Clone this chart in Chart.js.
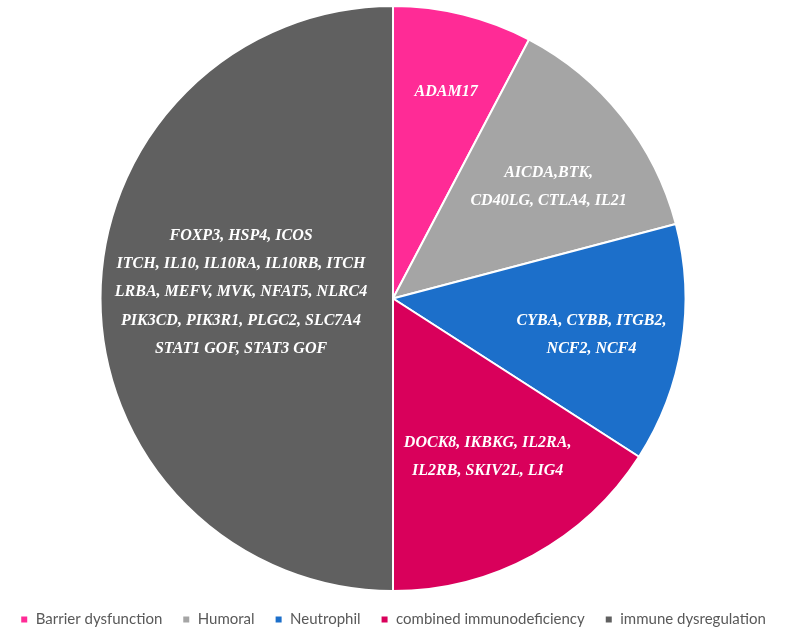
<!DOCTYPE html>
<html>
<head>
<meta charset="utf-8">
<script src="https://cdn.jsdelivr.net/npm/chart.js@4"></script>
<style>
  html, body { margin: 0; padding: 0; background: #fff; }
  #wrap { width: 792px; height: 637px; }
</style>
</head>
<body>
<div id="wrap"><canvas id="myChart" width="792" height="637"></canvas></div>
<script>
const categories = ["Barrier dysfunction", "Humoral", "Neutrophil", "combined immunodeficiency", "immune dysregulation"];
const shares = [7.7, 13.2, 13.2, 15.9, 50];
const geneLabels = [
    ["ADAM17"],
    ["AICDA,BTK,", "CD40LG, CTLA4, IL21"],
    ["CYBA, CYBB, ITGB2,", "NCF2, NCF4"],
    ["DOCK8, IKBKG, IL2RA,", "IL2RB, SKIV2L, LIG4"],
    ["FOXP3, HSP4, ICOS", "ITCH, IL10, IL10RA, IL10RB, ITCH", "LRBA, MEFV, MVK, NFAT5, NLRC4",
     "PIK3CD, PIK3R1, PLGC2, SLC7A4", "STAT1 GOF, STAT3 GOF"]
];
const colors = ["#FF2B96", "#A5A5A5", "#1C6FCA", "#D9005B", "#606060"];

// where each label sits: fraction along the slice angle, fraction of radius
const labelSpots = [[0.52, 0.73], [0.56, 0.655], [0.53, 0.69], [0.46, 0.63], [0.513, 0.52]];

const geneLabelPlugin = {
    id: "geneLabels",
    afterDatasetsDraw(chart) {
        const ctx = chart.ctx;
        const meta = chart.getDatasetMeta(0);
        ctx.save();
        ctx.font = "italic bold 16px 'Liberation Serif', 'Times New Roman', serif";
        ctx.fillStyle = "#ffffff";
        ctx.textAlign = "center";
        ctx.textBaseline = "middle";
        meta.data.forEach((arc, i) => {
            const p = arc.getProps(["x", "y", "startAngle", "endAngle", "outerRadius"], true);
            const [t, f] = labelSpots[i];
            const a = p.startAngle + (p.endAngle - p.startAngle) * t;
            const cx = p.x + Math.cos(a) * p.outerRadius * f;
            const cy = p.y + Math.sin(a) * p.outerRadius * f;
            const lines = geneLabels[i];
            const lh = 28.2;
            lines.forEach((line, j) => {
                ctx.fillText(line, cx, cy + (j - (lines.length - 1) / 2) * lh);
            });
        });
        ctx.restore();
    }
};

const ctx = document.getElementById("myChart").getContext("2d");
const chart = new Chart(ctx, {
    type: "pie",
    data: {
        labels: categories,
        datasets: [{
            data: shares,
            backgroundColor: colors,
            borderColor: "#ffffff",
            borderWidth: 2
        }]
    },
    options: {
        responsive: false,
        animation: false,
        layout: { padding: { top: 5, bottom: 0, left: 0, right: 6 } },
        plugins: {
            tooltip: { enabled: false },
            legend: {
                position: "bottom",
                labels: {
                    boxWidth: 8,
                    boxHeight: 8,
                    padding: 20,
                    color: "#595959",
                    font: { family: "Lato, 'Liberation Sans', sans-serif", size: 15 }
                }
            }
        }
    },
    plugins: [geneLabelPlugin]
});
</script>
</body>
</html>
